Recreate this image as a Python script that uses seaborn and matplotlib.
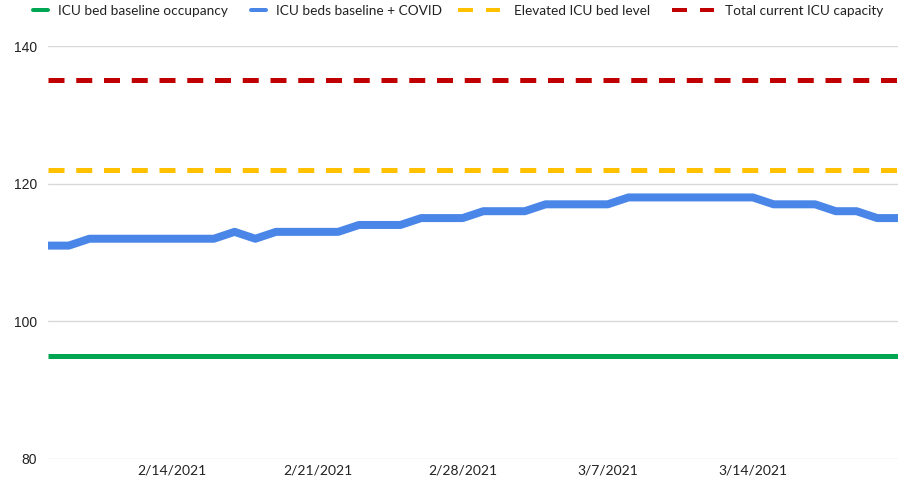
import matplotlib
matplotlib.use("Agg")
import matplotlib.pyplot as plt
from matplotlib.lines import Line2D
import seaborn as sns
import pandas as pd

dates = pd.date_range("2021-02-08", "2021-03-21", freq="D")
covid_beds = [111, 111, 112, 112, 112, 112, 112, 112, 112, 113,
              112, 113, 113, 113, 113, 114, 114, 114, 115, 115,
              115, 116, 116, 116, 117, 117, 117, 117, 118, 118,
              118, 118, 118, 118, 118, 117, 117, 117, 116, 116,
              115, 115]
baseline = [95] * len(dates)
elevated = [122] * len(dates)
capacity = [135] * len(dates)

labels = ["ICU bed baseline occupancy", "ICU beds baseline + COVID",
          "Elevated ICU bed level", "Total current ICU capacity"]
colors = ["#00A651", "#4A86E8", "#FFC000", "#C00000"]
yticks = [80, 100, 120, 140]
xtick_dates = ["2021-02-14", "2021-02-21", "2021-02-28", "2021-03-07", "2021-03-14"]
xtick_labels = ["2/14/2021", "2/21/2021", "2/28/2021", "3/7/2021", "3/14/2021"]

sns.set_theme(style="white")
plt.rcParams["font.family"] = ["Lato", "DejaVu Sans"]

W, H = 904, 483
fig = plt.figure(figsize=(W / 100, H / 100), dpi=100)
ax = fig.add_axes([48 / W, 1 - 459 / H, 850 / W, (459 - 46) / H])

df = pd.DataFrame({"date": dates, "baseline": baseline, "covid": covid_beds,
                   "elevated": elevated, "capacity": capacity})

lw_thin = 5 * 0.72
sns.lineplot(data=df, x="date", y="baseline", ax=ax, color=colors[0],
             linewidth=lw_thin, zorder=3)
sns.lineplot(data=df, x="date", y="covid", ax=ax, color=colors[1],
             linewidth=8 * 0.72, zorder=4)
sns.lineplot(data=df, x="date", y="elevated", ax=ax, color=colors[2],
             linewidth=lw_thin, zorder=3)
sns.lineplot(data=df, x="date", y="capacity", ax=ax, color=colors[3],
             linewidth=lw_thin, zorder=3)
for ln in ax.lines:
    ln.set_solid_joinstyle("round")
    ln.set_solid_capstyle("butt")
ax.lines[2].set_dashes((3.2, 2.35))
ax.lines[3].set_dashes((3.2, 2.35))

ax.set_xlim(dates[0], dates[-1])
ax.set_ylim(80, 140)
ax.set_yticks(yticks)
ax.set_yticklabels([str(v) for v in yticks], fontsize=10,
                   family=["Liberation Sans", "DejaVu Sans"], color="#222222")
ax.set_xticks(pd.to_datetime(xtick_dates))
ax.set_xticklabels(xtick_labels, fontsize=10, color="#222222")
ax.tick_params(axis="both", length=0)
ax.tick_params(axis="y", pad=8)
ax.tick_params(axis="x", pad=4)
ax.grid(axis="y", color="#D9D9D9", linewidth=1.0)
ax.grid(axis="x", visible=False)
for s in ax.spines.values():
    s.set_visible(False)
ax.set_xlabel("")
ax.set_ylabel("")

# legend: one entry per legend so each marker can have its own length
fs = 9.8
fs_px = fs * 100 / 72
leg_specs = [
    # (handle start px, handle length px, text start px, dashed)
    (33, 15, 58, False),
    (251, 15, 276, False),
    (458, 42, 514, True),
    (672, 42, 725, True),
]
for i, (x0, hl, tx, dashed) in enumerate(leg_specs):
    kw = dict(color=colors[i], linewidth=4 * 0.72)
    if dashed:
        kw["dashes"] = (3.75, 3.25)
    h = Line2D([], [], **kw)
    leg = fig.legend([h], [labels[i]], loc="center left",
                     bbox_to_anchor=(x0 / W, 1 - 11 / H), frameon=False,
                     fontsize=fs, handlelength=hl / fs_px,
                     handletextpad=(tx - x0 - hl) / fs_px,
                     borderpad=0, borderaxespad=0)
    for t in leg.get_texts():
        t.set_color("#222222")

fig.savefig("out.png", dpi=100, facecolor="white")
